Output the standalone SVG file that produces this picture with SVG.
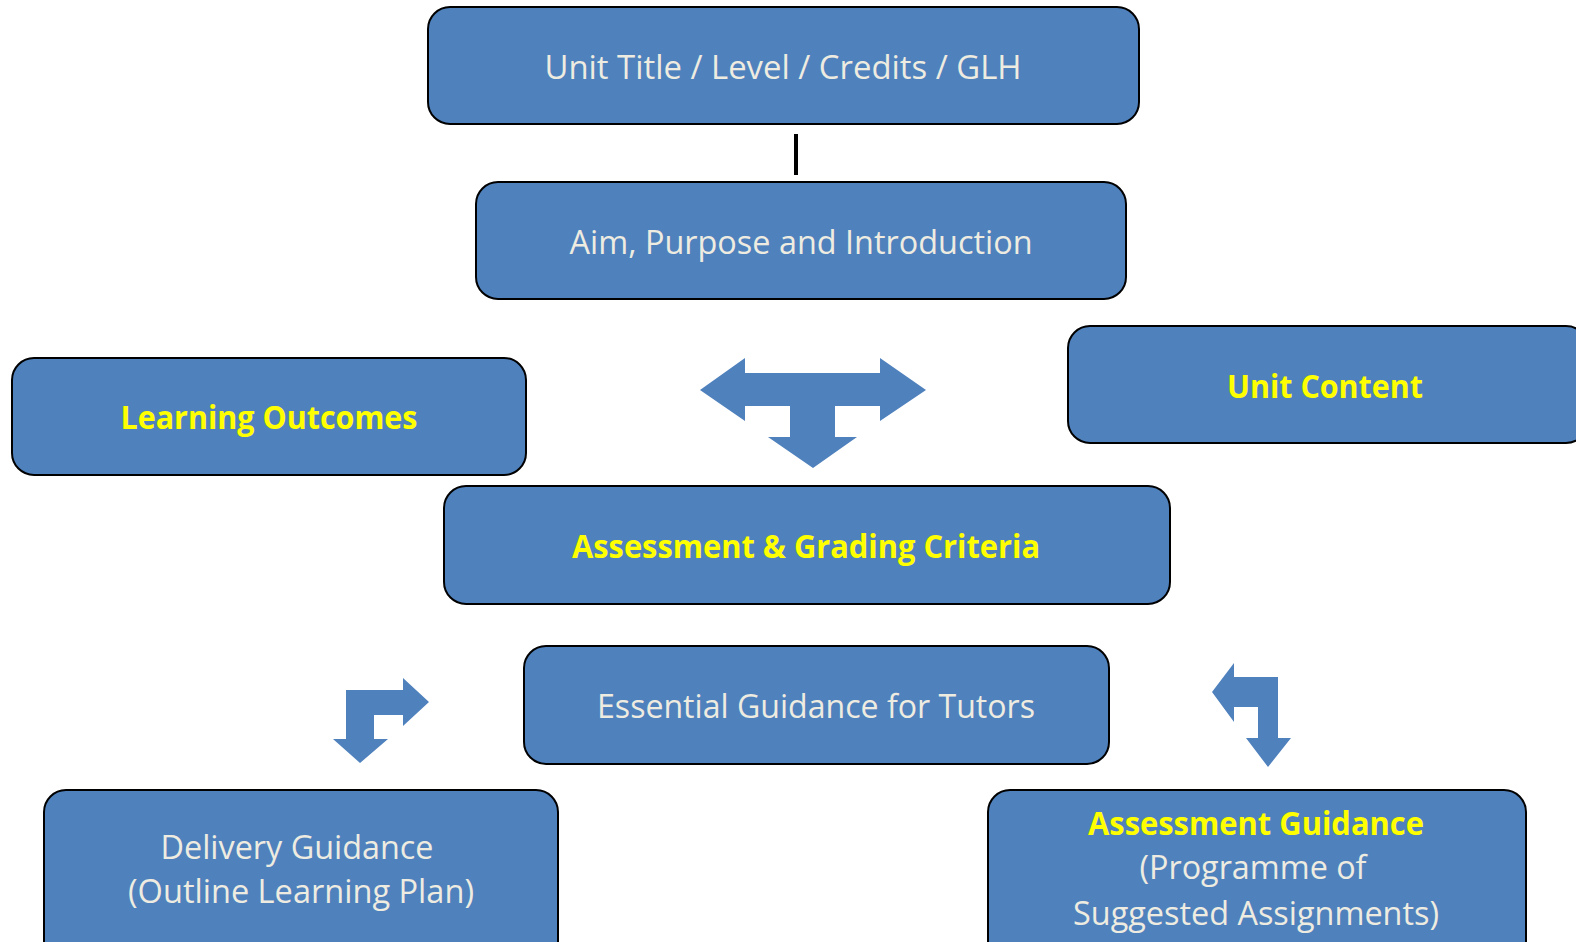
<svg xmlns="http://www.w3.org/2000/svg" width="1576" height="942" viewBox="0 0 1576 942">
<style>
.box{fill:#4F81BD;stroke:#000;stroke-width:2}
.t{font-family:"Open Sans","Noto Sans","Liberation Sans",sans-serif;font-size:33px;fill:#EEECE1;text-anchor:middle}
.y{font-weight:700;fill:#FFFF00}
.arr{fill:#4F81BD;stroke:none}
</style>
<rect width="1576" height="942" fill="#fff"/>
<g id="connectors">
<line x1="796" y1="134" x2="796" y2="175" stroke="#000" stroke-width="4"/>
<path class="arr" d="M700,390 L745,358 L745,373 L880,373 L880,358 L926,390 L880,421 L880,406 L835,406 L835,437 L857,437 L813,468 L768,437 L790,437 L790,406 L745,406 L745,421 Z"/>
<path class="arr" d="M346,690 L403,690 L403,678 L429,702 L403,726 L403,715 L374,715 L374,739 L388,739 L360,763 L333,739 L346,739 Z"/>
<path class="arr" d="M1212,692 L1234,663 L1234,677 L1278,677 L1278,738 L1291,738 L1268,767 L1246,738 L1258,738 L1258,707 L1234,707 L1234,722 Z"/>
</g>
<g id="node-unit-title">
<rect class="box" x="428" y="7" width="711" height="117" rx="22"/>
<text class="t" x="783" y="79" textLength="477" lengthAdjust="spacingAndGlyphs">Unit Title / Level / Credits / GLH</text>
</g>
<g id="node-aim">
<rect class="box" x="476" y="182" width="650" height="117" rx="22"/>
<text class="t" x="801" y="254" textLength="463" lengthAdjust="spacingAndGlyphs">Aim, Purpose and Introduction</text>
</g>
<g id="node-learning-outcomes">
<rect class="box" x="12" y="358" width="514" height="117" rx="22"/>
<text class="t y" x="269" y="429" textLength="297" lengthAdjust="spacingAndGlyphs">Learning Outcomes</text>
</g>
<g id="node-unit-content">
<rect class="box" x="1068" y="326" width="520" height="117" rx="22"/>
<text class="t y" x="1325" y="398" textLength="196" lengthAdjust="spacingAndGlyphs">Unit Content</text>
</g>
<g id="node-assessment-grading">
<rect class="box" x="444" y="486" width="726" height="118" rx="22"/>
<text class="t y" x="806" y="558" textLength="468" lengthAdjust="spacingAndGlyphs">Assessment &amp; Grading Criteria</text>
</g>
<g id="node-essential-guidance">
<rect class="box" x="524" y="646" width="585" height="118" rx="22"/>
<text class="t" x="816" y="718" textLength="438" lengthAdjust="spacingAndGlyphs">Essential Guidance for Tutors</text>
</g>
<g id="node-delivery-guidance">
<rect class="box" x="44" y="790" width="514" height="180" rx="22"/>
<text class="t" x="297" y="859" textLength="273" lengthAdjust="spacingAndGlyphs">Delivery Guidance</text>
<text class="t" x="301" y="903" textLength="346" lengthAdjust="spacingAndGlyphs">(Outline Learning Plan)</text>
</g>
<g id="node-assessment-guidance">
<rect class="box" x="988" y="790" width="538" height="180" rx="22"/>
<text class="t y" x="1256" y="835" textLength="336" lengthAdjust="spacingAndGlyphs">Assessment Guidance</text>
<text class="t" x="1253" y="879" textLength="227" lengthAdjust="spacingAndGlyphs">(Programme of</text>
<text class="t" x="1256" y="925" textLength="366" lengthAdjust="spacingAndGlyphs">Suggested Assignments)</text>
</g>
</svg>
